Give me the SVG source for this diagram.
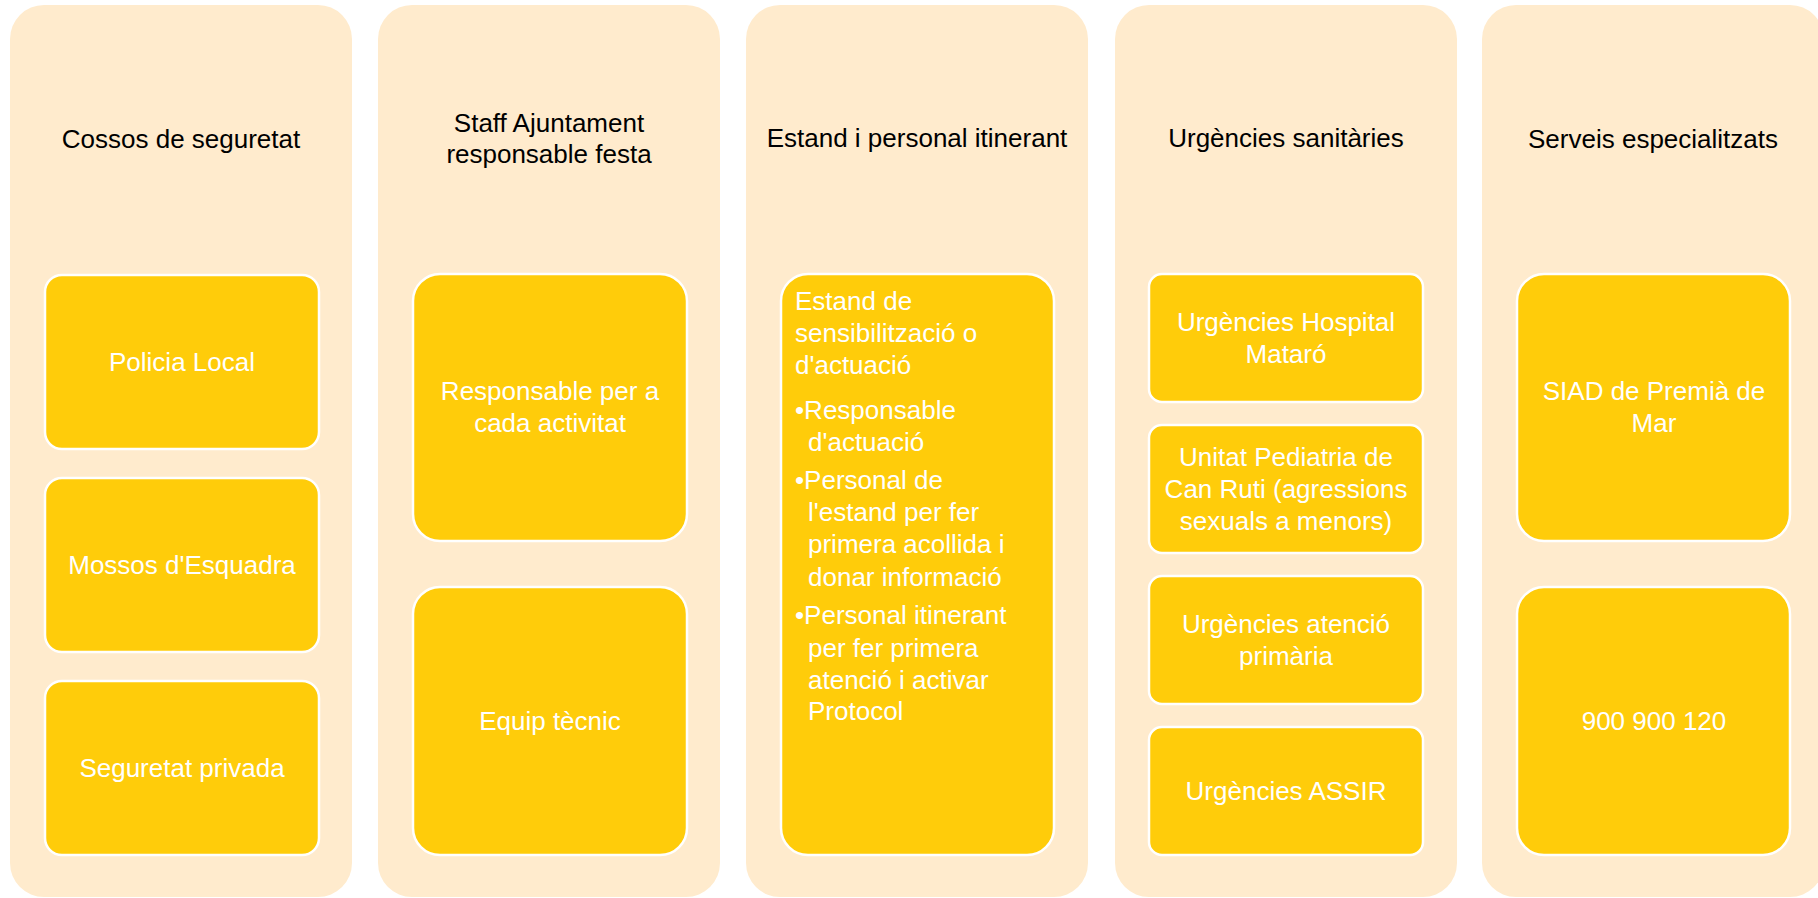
<svg xmlns="http://www.w3.org/2000/svg" width="1818" height="898" viewBox="0 0 1818 898">
<style>
.col{fill:#FFEBCD;}
.box{fill:#FFCC0A;stroke:#FFFFFF;stroke-width:2.5;}
.ttl{font-family:"Liberation Sans",Arial,sans-serif;font-size:26px;fill:#000000;text-anchor:middle;}
.lbl{font-family:"Liberation Sans",Arial,sans-serif;font-size:26px;fill:#FFFFFF;text-anchor:middle;}
.lft{font-family:"Liberation Sans",Arial,sans-serif;font-size:26px;fill:#FFFFFF;}
</style>
<rect width="1818" height="898" fill="#FFFFFF"/>
<g id="col1">
<rect class="col" x="10" y="5" width="342" height="892" rx="34"/>
<text class="ttl" x="181" y="148">Cossos de seguretat</text>
<g id="c1b1"><rect class="box" x="45" y="275" width="274" height="174" rx="17"/><text class="lbl" x="182" y="371">Policia Local</text></g>
<g id="c1b2"><rect class="box" x="45" y="478" width="274" height="174" rx="17"/><text class="lbl" x="182" y="574">Mossos d'Esquadra</text></g>
<g id="c1b3"><rect class="box" x="45" y="681" width="274" height="174" rx="17"/><text class="lbl" x="182" y="777">Seguretat privada</text></g>
</g>
<g id="col2">
<rect class="col" x="378" y="5" width="342" height="892" rx="34"/>
<text class="ttl" x="549" y="132">Staff Ajuntament</text>
<text class="ttl" x="549" y="163">responsable festa</text>
<g id="c2b1"><rect class="box" x="413" y="274" width="274" height="267" rx="27"/><text class="lbl" x="550" y="400">Responsable per a</text><text class="lbl" x="550" y="432">cada activitat</text></g>
<g id="c2b2"><rect class="box" x="413" y="587" width="274" height="268" rx="27"/><text class="lbl" x="550" y="730">Equip tècnic</text></g>
</g>
<g id="col3">
<rect class="col" x="746" y="5" width="342" height="892" rx="34"/>
<text class="ttl" x="917" y="147">Estand i personal itinerant</text>
<g id="c3b1"><rect class="box" x="781" y="274" width="273" height="581" rx="27"/>
<text class="lft" x="795" y="310">Estand de</text>
<text class="lft" x="795" y="342">sensibilització o</text>
<text class="lft" x="795" y="374">d'actuació</text>
<text class="lft" x="795" y="419">•Responsable</text>
<text class="lft" x="808" y="451">d'actuació</text>
<text class="lft" x="795" y="489">•Personal de</text>
<text class="lft" x="808" y="521">l'estand per fer</text>
<text class="lft" x="808" y="553">primera acollida i</text>
<text class="lft" x="808" y="586">donar informació</text>
<text class="lft" x="795" y="624">•Personal itinerant</text>
<text class="lft" x="808" y="657">per fer primera</text>
<text class="lft" x="808" y="689">atenció i activar</text>
<text class="lft" x="808" y="720">Protocol</text>
</g>
</g>
<g id="col4">
<rect class="col" x="1115" y="5" width="342" height="892" rx="34"/>
<text class="ttl" x="1286" y="147">Urgències sanitàries</text>
<g id="c4b1"><rect class="box" x="1149" y="274" width="274" height="128" rx="13"/><text class="lbl" x="1286" y="331">Urgències Hospital</text><text class="lbl" x="1286" y="363">Mataró</text></g>
<g id="c4b2"><rect class="box" x="1149" y="425" width="274" height="128" rx="13"/><text class="lbl" x="1286" y="466">Unitat Pediatria de</text><text class="lbl" x="1286" y="498">Can Ruti (agressions</text><text class="lbl" x="1286" y="530">sexuals a menors)</text></g>
<g id="c4b3"><rect class="box" x="1149" y="576" width="274" height="128" rx="13"/><text class="lbl" x="1286" y="633">Urgències atenció</text><text class="lbl" x="1286" y="665">primària</text></g>
<g id="c4b4"><rect class="box" x="1149" y="727" width="274" height="128" rx="13"/><text class="lbl" x="1286" y="800">Urgències ASSIR</text></g>
</g>
<g id="col5">
<rect class="col" x="1482" y="5" width="342" height="892" rx="34"/>
<text class="ttl" x="1653" y="148">Serveis especialitzats</text>
<g id="c5b1"><rect class="box" x="1517" y="274" width="273" height="267" rx="27"/><text class="lbl" x="1654" y="400">SIAD de Premià de</text><text class="lbl" x="1654" y="432">Mar</text></g>
<g id="c5b2"><rect class="box" x="1517" y="587" width="273" height="268" rx="27"/><text class="lbl" x="1654" y="730">900 900 120</text></g>
</g>
<g id="connectors"></g>
</svg>
